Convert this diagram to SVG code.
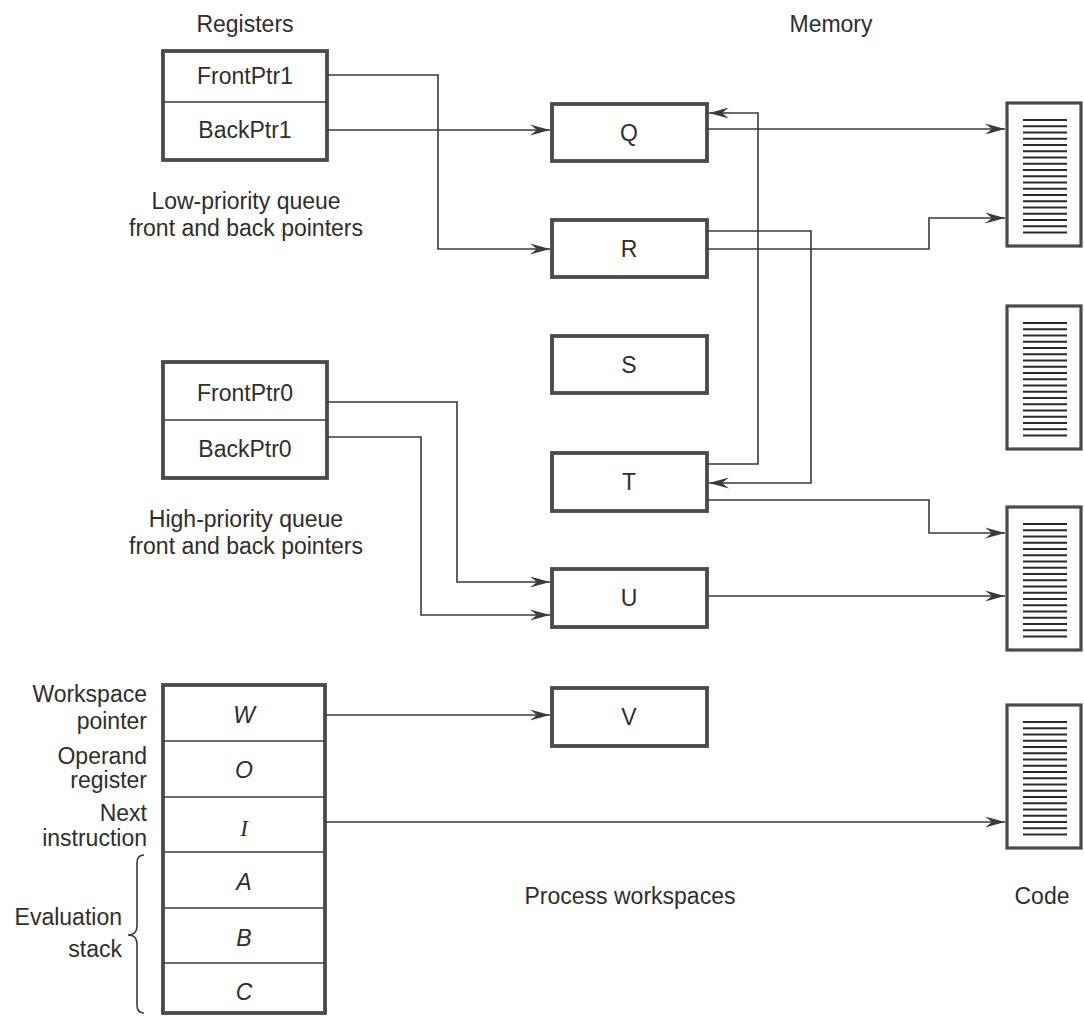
<svg xmlns="http://www.w3.org/2000/svg" xmlns:xlink="http://www.w3.org/1999/xlink" width="1084" height="1016" viewBox="0 0 1084 1016">
<style>
text{font-family:"Liberation Sans",Arial,sans-serif;font-size:23px;fill:#2e2e2e}
.c{text-anchor:middle}
.e{text-anchor:end}
.it{font-style:italic}
.box{fill:#fff;stroke:#4a4a4a;stroke-width:3.8}
.div{stroke:#3a3a3a;stroke-width:1.5}
.code{fill:#fff;stroke:#4a4a4a;stroke-width:3.2}
.cl{stroke:#2a2a2a;stroke-width:1.8;fill:none}
.con{fill:none;stroke:#3a3a3a;stroke-width:1.6;marker-end:url(#arr)}
.plain{fill:none;stroke:#3a3a3a;stroke-width:1.6}
</style>
<defs>
<marker id="arr" viewBox="0 0 20 12" refX="20" refY="6" markerWidth="20" markerHeight="12" orient="auto" markerUnits="userSpaceOnUse">
<path d="M0,0.5 L20,6 L0,11.5 L7,6 Z" fill="#3a3a3a"/>
</marker>
<path id="codeLines" class="cl" d="M0,0H44M0,6.25H44M0,12.5H44M0,18.75H44M0,25H44M0,31.25H44M0,37.5H44M0,43.75H44M0,50H44M0,56.25H44M0,62.5H44M0,68.75H44M0,75H44M0,81.25H44M0,87.5H44M0,93.75H44M0,100H44M0,106.25H44M0,112.5H44"/>
</defs>
<rect width="1084" height="1016" fill="#fff"/>

<text class="c" x="245" y="32">Registers</text>
<text class="c" x="831" y="32">Memory</text>

<g id="regs1">
<rect class="box" x="163" y="51" width="164" height="109"/>
<line class="div" x1="163" y1="102" x2="327" y2="102"/>
<text class="c" x="245" y="84">FrontPtr1</text>
<text class="c" x="245" y="138">BackPtr1</text>
</g>
<g id="lowLabel">
<text class="c" x="246" y="209">Low-priority queue</text>
<text class="c" x="246" y="236">front and back pointers</text>
</g>

<g id="regs0">
<rect class="box" x="163" y="362" width="164" height="116"/>
<line class="div" x1="163" y1="420" x2="327" y2="420"/>
<text class="c" x="245" y="401">FrontPtr0</text>
<text class="c" x="245" y="457">BackPtr0</text>
</g>
<g id="highLabel">
<text class="c" x="246" y="527">High-priority queue</text>
<text class="c" x="246" y="554">front and back pointers</text>
</g>

<g id="workspace">
<rect class="box" x="163" y="685" width="162" height="328"/>
<line class="div" x1="163" y1="741" x2="325" y2="741"/>
<line class="div" x1="163" y1="797" x2="325" y2="797"/>
<line class="div" x1="163" y1="852" x2="325" y2="852"/>
<line class="div" x1="163" y1="908" x2="325" y2="908"/>
<line class="div" x1="163" y1="963" x2="325" y2="963"/>
<text class="c it" x="244" y="723">W</text>
<text class="c it" x="244" y="778">O</text>
<text class="c it" x="244" y="836" style="font-family:'Liberation Serif','Times New Roman',serif">I</text>
<text class="c it" x="244" y="890">A</text>
<text class="c it" x="244" y="946">B</text>
<text class="c it" x="244" y="1000">C</text>
</g>
<g id="wsLabels">
<text class="e" x="147" y="702">Workspace</text>
<text class="e" x="147" y="729">pointer</text>
<text class="e" x="147" y="764">Operand</text>
<text class="e" x="147" y="788">register</text>
<text class="e" x="147" y="821">Next</text>
<text class="e" x="147" y="846">instruction</text>
<text class="e" x="122" y="925">Evaluation</text>
<text class="e" x="122" y="957">stack</text>
<path class="plain" d="M144,855 Q137,855 137,863 L137,926 Q137,935 128,935 Q137,935 137,944 L137,1005 Q137,1013 144,1013"/>
</g>

<g id="Q"><rect class="box" x="552" y="104" width="155" height="57"/><text class="c" x="629" y="141">Q</text></g>
<g id="R"><rect class="box" x="552" y="220" width="155" height="57"/><text class="c" x="629" y="257">R</text></g>
<g id="S"><rect class="box" x="552" y="336" width="155" height="57"/><text class="c" x="629" y="373">S</text></g>
<g id="T"><rect class="box" x="552" y="453" width="155" height="58"/><text class="c" x="629" y="490">T</text></g>
<g id="U"><rect class="box" x="552" y="569" width="155" height="58"/><text class="c" x="629" y="606">U</text></g>
<g id="V"><rect class="box" x="552" y="688" width="155" height="58"/><text class="c" x="629" y="725">V</text></g>

<g id="code1"><rect class="code" x="1007" y="103" width="74" height="143"/><use xlink:href="#codeLines" x="1023" y="120"/></g>
<g id="code2"><rect class="code" x="1007" y="306" width="74" height="143"/><use xlink:href="#codeLines" x="1023" y="323"/></g>
<g id="code3"><rect class="code" x="1007" y="507" width="74" height="143"/><use xlink:href="#codeLines" x="1023" y="524"/></g>
<g id="code4"><rect class="code" x="1007" y="705" width="74" height="143"/><use xlink:href="#codeLines" x="1023" y="722"/></g>

<text class="c" x="630" y="904">Process workspaces</text>
<text class="c" x="1042" y="904">Code</text>

<g id="connectors">
<path class="con" d="M327,75 H438 V249 H550"/>
<path class="con" d="M327,130 H550"/>
<path class="con" d="M707,129 H1005"/>
<path class="con" d="M707,464 H758 V113 H709"/>
<path class="con" d="M707,231 H811 V483 H709"/>
<path class="con" d="M707,249 H929 V218 H1005"/>
<path class="con" d="M707,500 H929 V533 H1005"/>
<path class="con" d="M327,402 H457 V582 H550"/>
<path class="con" d="M327,437 H421 V615 H550"/>
<path class="con" d="M707,596 H1005"/>
<path class="con" d="M325,715 H550"/>
<path class="con" d="M325,822 H1005"/>
</g>
</svg>
